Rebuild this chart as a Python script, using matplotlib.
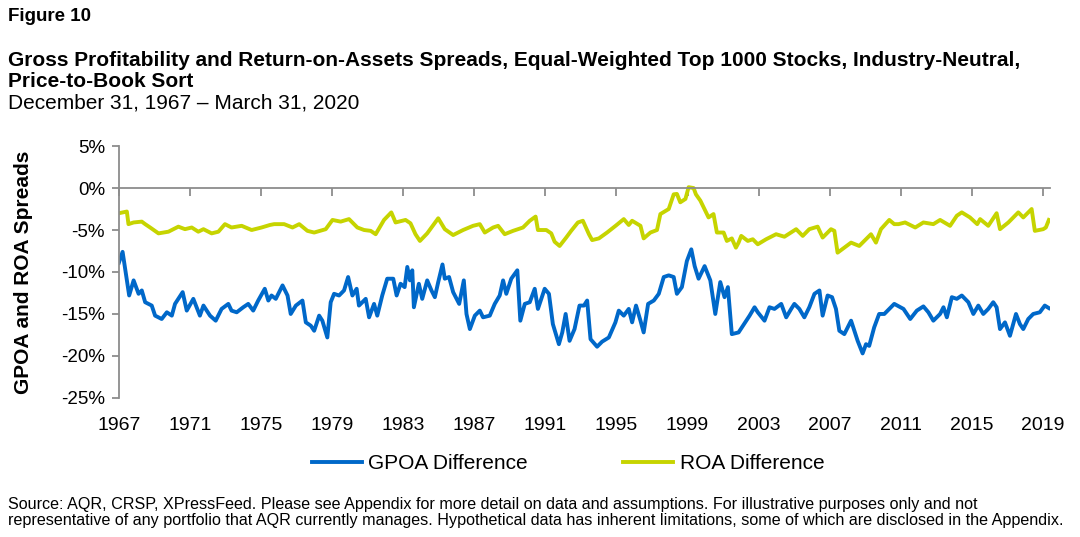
import matplotlib
matplotlib.use("Agg")
import matplotlib.pyplot as plt
from matplotlib.ticker import FuncFormatter

plt.rcParams['font.family'] = ['Liberation Sans', 'DejaVu Sans']

# --- data (decimal years, spread in %) ---
gpoa_dates = [
    1967.92, 1968.13, 1968.27, 1968.50, 1968.75, 1969.03, 1969.21, 1969.40, 1969.77, 1969.96,
    1970.33, 1970.62, 1970.90, 1971.08, 1971.51, 1971.74, 1972.11, 1972.48, 1972.68, 1973.05,
    1973.37, 1973.70, 1974.08, 1974.26, 1974.55, 1974.92, 1975.20, 1975.48, 1975.76, 1976.13,
    1976.33, 1976.51, 1976.75, 1977.13, 1977.41, 1977.59, 1977.88, 1978.25, 1978.44, 1978.72,
    1978.91, 1979.19, 1979.37, 1979.65, 1979.84, 1980.03, 1980.31, 1980.59, 1980.82, 1981.06,
    1981.30, 1981.43, 1981.81, 1982.00, 1982.28, 1982.46, 1982.74, 1983.02, 1983.36, 1983.55,
    1983.77, 1984.00, 1984.15, 1984.30, 1984.43, 1984.52, 1984.80, 1984.99, 1985.27, 1985.51,
    1985.70, 1985.89, 1986.13, 1986.26, 1986.50, 1986.73, 1987.07, 1987.33, 1987.48, 1987.67,
    1987.95, 1988.23, 1988.41, 1988.79, 1989.07, 1989.35, 1989.54, 1989.72, 1990.00, 1990.34,
    1990.51, 1990.76, 1991.04, 1991.32, 1991.50, 1991.88, 1992.12, 1992.34, 1992.68, 1992.87,
    1993.06, 1993.28, 1993.56, 1993.84, 1994.09, 1994.27, 1994.46, 1994.83, 1995.11, 1995.49,
    1995.86, 1996.05, 1996.33, 1996.61, 1996.80, 1997.02, 1997.27, 1997.45, 1997.70, 1998.02,
    1998.30, 1998.58, 1998.86, 1999.14, 1999.32, 1999.60, 1999.88, 2000.13, 2000.32, 2000.54,
    2000.88, 2001.20, 2001.48, 2001.76, 2002.00, 2002.19, 2002.41, 2002.79, 2003.16, 2003.41,
    2003.69, 2003.87, 2004.25, 2004.53, 2004.81, 2005.19, 2005.47, 2005.75, 2005.93, 2006.21,
    2006.49, 2006.77, 2007.06, 2007.34, 2007.52, 2007.80, 2008.05, 2008.27, 2008.46, 2008.74,
    2009.12, 2009.49, 2009.77, 2009.96, 2010.14, 2010.42, 2010.70, 2010.99, 2011.27, 2011.55,
    2012.07, 2012.45, 2012.82, 2013.19, 2013.47, 2013.75, 2014.13, 2014.32, 2014.51, 2014.79,
    2015.07, 2015.35, 2015.72, 2016.00, 2016.28, 2016.56, 2016.84, 2017.12, 2017.31, 2017.50,
    2017.78, 2018.06, 2018.40, 2018.62, 2018.81, 2019.09, 2019.37, 2019.74, 2020.02, 2020.25,
]
gpoa_diff = [
    -8.9, -7.6, -9.6, -12.8, -11.0, -12.6, -12.2, -13.6, -14.0, -15.2,
    -15.6, -14.8, -15.2, -13.8, -12.4, -14.6, -13.2, -15.2, -14.0, -15.2,
    -15.8, -14.4, -13.8, -14.6, -14.8, -14.2, -13.8, -14.6, -13.4, -12.0,
    -13.4, -12.8, -13.2, -11.6, -12.8, -15.0, -14.0, -13.4, -16.0, -16.4,
    -17.0, -15.2, -15.8, -17.8, -13.6, -12.6, -12.8, -12.2, -10.6, -12.8,
    -12.0, -14.0, -13.2, -15.4, -13.8, -15.2, -12.8, -10.8, -10.8, -12.8,
    -11.4, -11.8, -9.4, -11.0, -9.8, -14.2, -11.4, -13.2, -11.0, -12.2,
    -13.0, -11.2, -9.1, -10.8, -10.6, -12.4, -13.8, -11.0, -15.0, -16.8,
    -15.2, -14.6, -15.4, -15.2, -13.8, -12.8, -11.0, -12.6, -10.8, -9.8,
    -15.8, -13.8, -13.6, -12.0, -14.4, -12.0, -12.6, -16.2, -18.6, -17.2,
    -15.0, -18.2, -16.8, -14.0, -14.0, -13.4, -18.0, -18.9, -18.3, -17.8,
    -16.0, -14.6, -15.2, -14.4, -16.0, -14.0, -15.8, -17.2, -13.8, -13.4,
    -12.6, -10.6, -10.4, -10.6, -12.6, -11.8, -8.7, -7.3, -9.3, -10.8,
    -9.3, -11.0, -15.0, -11.2, -13.0, -11.8, -17.4, -17.2, -16.0, -15.2,
    -14.2, -14.8, -15.8, -14.2, -14.4, -13.8, -15.4, -14.4, -13.8, -14.4,
    -15.4, -14.2, -12.6, -12.2, -15.2, -12.8, -13.0, -14.4, -17.0, -17.4,
    -15.8, -18.2, -19.7, -18.6, -18.8, -16.6, -15.0, -15.0, -14.4, -13.8,
    -14.4, -15.6, -14.6, -14.1, -14.8, -15.8, -15.0, -14.2, -15.4, -13.0,
    -13.2, -12.8, -13.6, -15.0, -14.0, -15.0, -14.4, -13.6, -14.2, -16.8,
    -16.0, -17.6, -15.0, -16.2, -16.8, -15.6, -15.0, -14.8, -14.0, -14.3,
]

roa_dates = [
    1967.92, 1968.37, 1968.46, 1968.75, 1969.21, 1969.40, 1969.68, 1970.15, 1970.71, 1971.27,
    1971.64, 1972.02, 1972.39, 1972.68, 1973.14, 1973.52, 1973.89, 1974.26, 1974.83, 1975.39,
    1975.95, 1976.42, 1976.66, 1977.22, 1977.69, 1978.07, 1978.53, 1978.91, 1979.56, 1979.94,
    1980.40, 1980.87, 1981.34, 1981.72, 1982.09, 1982.37, 1982.84, 1983.25, 1983.49, 1984.05,
    1984.33, 1984.61, 1984.86, 1985.27, 1985.51, 1985.89, 1986.26, 1986.73, 1987.29, 1987.85,
    1988.23, 1988.51, 1988.98, 1989.26, 1989.63, 1990.10, 1990.66, 1991.04, 1991.37, 1991.50,
    1991.97, 1992.25, 1992.44, 1992.72, 1993.09, 1993.37, 1993.75, 1994.03, 1994.37, 1994.55,
    1994.93, 1995.39, 1995.87, 1996.33, 1996.61, 1996.80, 1997.27, 1997.45, 1997.83, 1998.20,
    1998.39, 1998.86, 1999.14, 1999.32, 1999.51, 1999.80, 1999.98, 2000.26, 2000.39, 2000.64,
    2001.10, 2001.38, 2001.57, 2001.95, 2002.13, 2002.41, 2002.64, 2002.79, 2002.94, 2003.31,
    2003.59, 2003.87, 2004.34, 2004.90, 2005.37, 2006.03, 2006.40, 2006.77, 2007.24, 2007.52,
    2007.99, 2008.18, 2008.36, 2008.74, 2009.12, 2009.58, 2009.96, 2010.24, 2010.52, 2010.80,
    2011.27, 2011.55, 2011.79, 2012.16, 2012.73, 2013.19, 2013.75, 2014.13, 2014.69, 2015.07,
    2015.35, 2015.81, 2016.22, 2016.38, 2016.84, 2017.31, 2017.50, 2017.97, 2018.53, 2018.81,
    2019.28, 2019.46, 2019.93, 2020.08, 2020.25,
]
roa_diff = [
    -3.0, -2.8, -4.3, -4.1, -4.0, -4.3, -4.7, -5.4, -5.2, -4.6,
    -4.9, -4.7, -5.2, -4.9, -5.4, -5.2, -4.3, -4.7, -4.5, -5.0,
    -4.7, -4.4, -4.3, -4.3, -4.7, -4.3, -5.1, -5.3, -4.9, -3.8,
    -4.0, -3.7, -4.7, -5.0, -5.1, -5.5, -3.8, -2.9, -4.1, -3.8,
    -4.2, -5.5, -6.3, -5.4, -4.7, -3.6, -4.9, -5.6, -5.0, -4.5,
    -4.3, -5.3, -4.7, -4.5, -5.5, -5.1, -4.7, -3.9, -3.4, -5.0,
    -5.0, -5.4, -6.4, -6.9, -5.9, -5.1, -4.1, -3.9, -5.5, -6.2,
    -6.0, -5.3, -4.5, -3.7, -4.4, -3.9, -4.5, -6.0, -5.3, -5.0,
    -3.1, -2.5, -0.75, -0.7, -1.7, -1.3, 0.1, 0.0, -0.75, -1.5,
    -3.5, -3.1, -5.3, -5.3, -6.3, -6.0, -7.1, -6.5, -5.7, -6.3,
    -6.1, -6.7, -6.1, -5.5, -5.8, -4.9, -5.7, -4.9, -4.6, -5.9,
    -4.9, -5.1, -7.7, -7.1, -6.5, -6.9, -6.1, -5.5, -6.5, -4.9,
    -3.8, -4.3, -4.3, -4.1, -4.7, -4.1, -4.3, -3.8, -4.5, -3.3,
    -2.9, -3.5, -4.3, -3.7, -4.5, -3.0, -4.9, -4.1, -2.9, -3.5,
    -2.5, -5.1, -4.9, -4.7, -3.8,
]

tick_years = list(range(1967, 2020, 4))
y_ticks = [5, 0, -5, -10, -15, -20, -25]

blue = '#0068C9'
lime = '#C6D400'
axis_grey = '#8C8C8C'

fig = plt.figure(figsize=(10.8, 5.37), dpi=100)
ax = fig.add_axes([0.110, 0.259, 0.862, 0.469])

ax.plot(gpoa_dates, gpoa_diff, color=blue, lw=2.8, label='GPOA Difference')
ax.plot(roa_dates, roa_diff, color=lime, lw=2.8, label='ROA Difference')

# ticks sit on month-end of December, as the series starts Dec 1967
tick_pos = [y + 11 / 12 for y in tick_years]
ax.set_xlim(tick_pos[0], 2020.3)
ax.set_ylim(-25, 5)
ax.set_yticks(y_ticks)
ax.yaxis.set_major_formatter(FuncFormatter(lambda v, _: f'{v:.0f}%'))

for s in ['top', 'right']:
    ax.spines[s].set_visible(False)
ax.spines['left'].set_color(axis_grey)
ax.spines['bottom'].set_color(axis_grey)
ax.spines['bottom'].set_position(('data', 0))
ax.spines['left'].set_linewidth(1.3)
ax.spines['bottom'].set_linewidth(1.3)

ax.set_xticks(tick_pos)
ax.tick_params(axis='x', direction='out', length=6, width=1.3, color=axis_grey,
               labelbottom=False)
ax.tick_params(axis='y', direction='out', length=5, width=1.3, color=axis_grey,
               labelsize=13.5, pad=5)

# year labels live at the bottom of the plot, not on the zero line
sec = ax.secondary_xaxis('bottom')
sec.set_xticks(tick_pos)
sec.set_xticklabels([str(y) for y in tick_years])
sec.spines['bottom'].set_visible(False)
sec.tick_params(length=0, labelsize=14, pad=14)

ax.set_ylabel('GPOA and ROA Spreads', fontsize=15, fontweight='bold', labelpad=20)

fig.legend(loc='center', bbox_to_anchor=(0.526, 0.137), ncol=2, frameon=False,
           fontsize=15, handlelength=2.4, columnspacing=4.6, handletextpad=0.3)

fig.text(0.007, 0.985, 'Figure 10', fontsize=13.5, fontweight='bold', va='top')
fig.text(0.007, 0.905, 'Gross Profitability and Return-on-Assets Spreads, Equal-Weighted Top 1000 Stocks, '
         'Industry-Neutral,\nPrice-to-Book Sort', fontsize=15, fontweight='bold', va='top',
         linespacing=1.12)
fig.text(0.007, 0.825, 'December 31, 1967 \u2013 March 31, 2020', fontsize=15, va='top')
fig.text(0.007, 0.075, 'Source: AQR, CRSP, XPressFeed. Please see Appendix for more detail on data and '
         'assumptions. For illustrative purposes only and not\nrepresentative of any portfolio that AQR '
         'currently manages. Hypothetical data has inherent limitations, some of which are disclosed '
         'in the Appendix.', fontsize=11.6, va='top', linespacing=1.1)

fig.savefig('out.png', dpi=100)
